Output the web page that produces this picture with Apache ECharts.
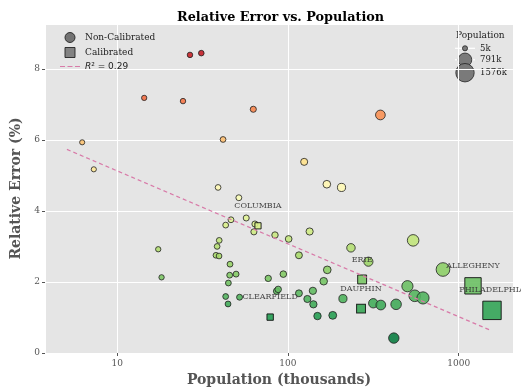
<!DOCTYPE html>
<html><head><meta charset="utf-8">
<script src="https://cdn.jsdelivr.net/npm/echarts@6/dist/echarts.min.js"></script>
<style>html,body{margin:0;padding:0;background:#fff}#c{width:521px;height:390px}</style>
</head><body><div id="c"></div>
<script>
// Non-calibrated counties: population (thousands) and relative error (%)
const nonCalPop = [26.7,31.1,14.4,24.3,62.7,6.24,41.7,348,7.3,39,51.6,124.5,169,206,541,134,84,101,234,116,
  57,46.4,43.2,64.1,63.2,39.6,38.5,17.4,37.9,39.5,45.8,45.6,49.7,18.2,76.7,44.8,85.9,87.7,43.2,52.1,
  44.6,296,170,94,162,116,140,130,141,210,316,350,430,149,183,417,809,501,553,618];
const nonCalErr = [8.39,8.44,7.18,7.09,6.86,5.93,6.01,6.70,5.17,4.66,4.37,5.38,4.75,4.66,3.17,3.42,3.32,3.21,2.96,2.75,
  3.80,3.75,3.60,3.63,3.41,3.17,3.00,2.92,2.75,2.73,2.50,2.19,2.22,2.13,2.10,1.97,1.74,1.79,1.59,1.57,
  1.38,2.57,2.34,2.22,2.02,1.68,1.75,1.52,1.37,1.53,1.40,1.35,1.37,1.04,1.06,0.42,2.35,1.88,1.61,1.55];
// Calibrated counties
const calNames = ['COLUMBIA','ERIE','DAUPHIN','CLEARFIELD','ALLEGHENY','PHILADELPHIA'];
const calPop = [66.8,272,268,78.7,1213,1567];
const calErr = [3.58,2.07,1.25,1.01,1.89,1.20];
// Trend line endpoints
const trendPop = [5.08,1553];
const trendErr = [5.73,0.63];
// Size legend
const sizeLegendPop = [5,791,1576];
const sizeLegendLabels = ['5k','791k','1576k'];
const r2Label = 'R² = 0.29';

const FONT = 'DejaVu Serif';
function sz(p){ return Math.sqrt(25 + 0.2*p); }
const colorRange = ['#006837','#1a9850','#66bd63','#a6d96a','#d9ef8b','#ffffbf','#fee08b','#fdae61','#f46d43','#d73027','#a50026'];

const nonCalData = nonCalPop.map((p,i)=>[p,nonCalErr[i]]);
const calData = calPop.map((p,i)=>({value:[p,calErr[i]], name:calNames[i]}));
const trendData = trendPop.map((p,i)=>[p,trendErr[i]]);

const legX = 465, legY = [48.3,59.8,72.7];
const graphics = [{type:'text', left:456, top:31, style:{text:'Population', font:'9px "DejaVu Serif"', fill:'#222'}}];
sizeLegendPop.forEach((p,i)=>{
  graphics.push({type:'rect', shape:{x:455, y:legY[i]-0.6, width:20, height:1.2}, style:{fill:'#fff'}});
  graphics.push({type:'circle', shape:{cx:legX, cy:legY[i], r:sz(p)/2}, style:{fill:'#7a7a7a', stroke:'#222', lineWidth:0.8}});
  graphics.push({type:'text', x:480, y:legY[i], style:{text:sizeLegendLabels[i], font:'8.5px "DejaVu Serif"', fill:'#222', verticalAlign:'middle'}});
});

const chart = echarts.init(document.getElementById('c'));
chart.setOption({
  animation:false,
  backgroundColor:'#fff',
  title:{text:'Relative Error vs. Population', left:172, top:6,
    textStyle:{fontFamily:FONT, fontWeight:'bold', fontSize:12.8, color:'#000'}},
  grid:{left:45, right:8, top:24, bottom:37, show:true, backgroundColor:'#e5e5e5', borderWidth:0,
    outerBoundsMode:'none', containLabel:false},
  legend:{orient:'vertical', left:55, top:27, itemGap:4, itemWidth:20, itemHeight:10,
    textStyle:{fontFamily:FONT, fontSize:9, color:'#222', rich:{it:{fontStyle:'italic', fontFamily:'DejaVu Sans', fontSize:9, color:'#222'}, n:{fontFamily:'DejaVu Sans', fontSize:9, color:'#222'}}},
    formatter:function(n){ return n===r2Label ? '{it|R}{n|² = 0.29}' : n; },
    data:[
      {name:'Non-Calibrated', icon:'circle', itemStyle:{color:'#666', borderColor:'#222', borderWidth:1}},
      {name:'Calibrated', icon:'path://M0,0h10v10h-10z', itemStyle:{color:'#777', borderColor:'#222', borderWidth:1}},
      {name:r2Label, icon:'path://M0,4.5h5v1.2h-5zM7.5,4.5h5v1.2h-5zM15,4.5h5v1.2h-5z', itemStyle:{color:'#d87aa8', borderWidth:0}}
    ]},
  visualMap:{type:'continuous', show:false, dimension:1, seriesIndex:[0,1],
    min:0, max:9, inRange:{color:colorRange}},
  xAxis:{type:'log', logBase:10, min:3.78, max:2080,
    name:'Population (thousands)', nameLocation:'middle', nameGap:19,
    nameTextStyle:{fontFamily:FONT, fontWeight:'bold', fontSize:14, color:'#555'},
    axisLine:{show:false}, axisTick:{show:true, length:3, lineStyle:{color:'#555'}},
    axisLabel:{fontFamily:FONT, fontSize:9, color:'#555', margin:6, showMinLabel:false, showMaxLabel:false,
      formatter:function(v){ return String(Math.round(v)); }},
    splitLine:{show:true, lineStyle:{color:'#fff', width:1}}, minorTick:{show:false}},
  yAxis:{type:'value', min:0, max:9.26, interval:2,
    name:'Relative Error (%)', nameLocation:'middle', nameGap:17, nameRotate:90,
    nameTextStyle:{fontFamily:FONT, fontWeight:'bold', fontSize:14, color:'#555'},
    axisLine:{show:false}, axisTick:{show:true, length:3, lineStyle:{color:'#555'}},
    axisLabel:{fontFamily:FONT, fontSize:9, color:'#555', margin:5, showMaxLabel:false},
    splitLine:{show:true, lineStyle:{color:'#fff', width:1}}},
  series:[
    {name:'Non-Calibrated', type:'scatter', data:nonCalData, symbol:'circle',
      symbolSize:function(v){return sz(v[0]);},
      itemStyle:{borderColor:'#222', borderWidth:0.9, opacity:0.9}, z:2},
    {name:'Calibrated', type:'scatter', data:calData, symbol:'rect',
      symbolSize:function(v){return sz(v[0]);},
      itemStyle:{borderColor:'#111', borderWidth:1, opacity:0.9}, z:3,
      label:{show:true, position:'inside', offset:[0,-20], formatter:'{b}',
        fontFamily:FONT, fontSize:8, color:'#333'}},
    {name:r2Label, type:'line', data:trendData, symbol:'none', z:4,
      lineStyle:{color:'#d87aa8', width:1.2, type:[4,3]}, itemStyle:{color:'#d87aa8'}}
  ],
  graphic:graphics
});
</script></body></html>
